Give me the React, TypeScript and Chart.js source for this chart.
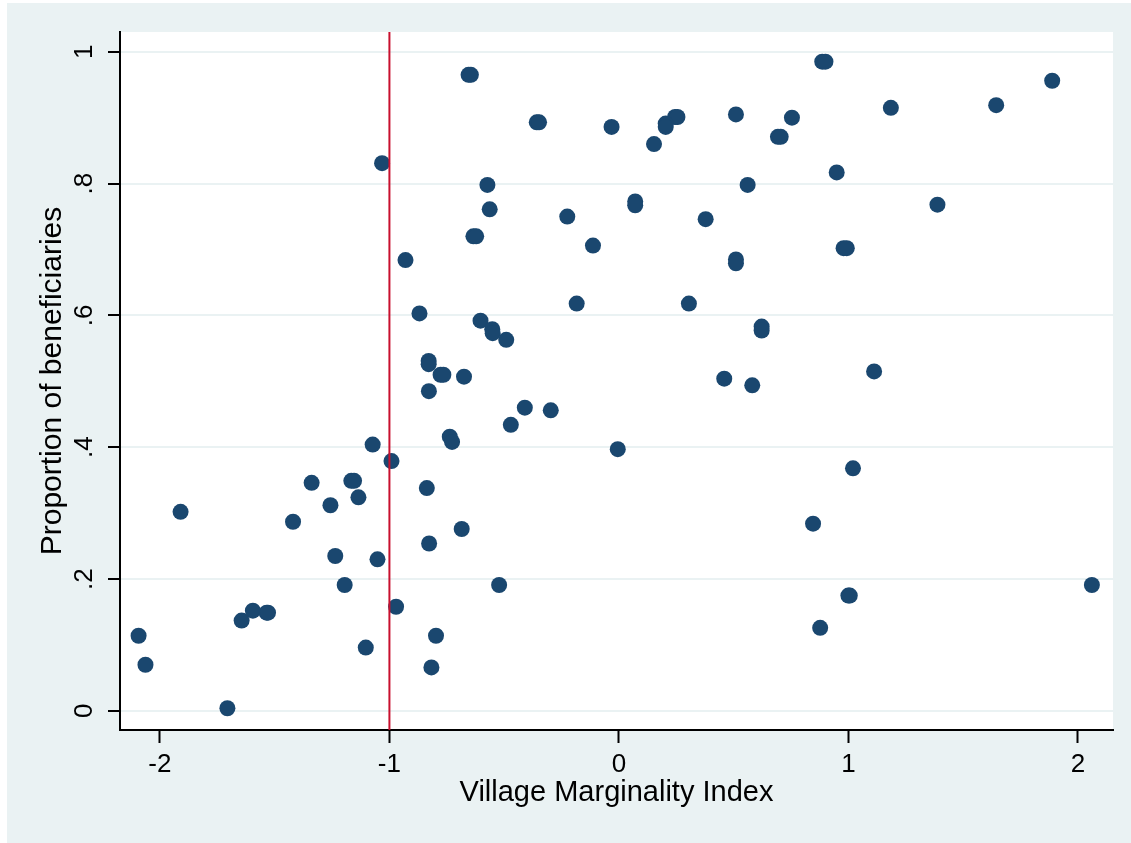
import React, { useEffect, useRef } from "react";
import { Chart, registerables } from "chart.js";

Chart.register(...registerables);

// Village Marginality Index (x) for each village
const marginalityIndex: number[] = [
  -0.655, -0.645, -0.358, -0.348, -0.032, -1.032, -0.573, -0.563, -0.225, -0.634,
  -0.622, -0.113, -0.93, -0.869, -0.184, -0.603, -0.552, -0.55, -0.491, -0.829,
  -0.829, -0.777, -0.765, -0.675, -0.828, -0.41, -0.297, -0.471, -0.737, -0.727,
  -0.005, -1.073, -0.991, -1.339, -1.166, -1.154, -1.135, -0.837, -1.257, -1.91,
  -1.42, -0.685, -0.827, -1.236, -1.052, -1.195, -0.522, -0.971, -1.595, -1.535,
  -1.529, -1.644, -2.093, -0.797, -1.103, -2.063, -0.817, -1.706, 0.886, 0.9,
  1.888, 0.245, 0.255, 0.204, 0.204, 0.51, 0.754, 0.693, 0.705, 1.185,
  1.644, 0.153, 0.949, 0.561, 0.071, 0.071, 1.388, 0.378, 0.979, 0.993,
  0.51, 0.51, 0.305, 0.622, 0.622, 0.459, 0.581, 1.112, 1.02, 0.846,
  2.061, 1.0, 1.006, 0.877,
];

// Proportion of beneficiaries (y) for each village
const beneficiaryShare: number[] = [
  0.965, 0.965, 0.893, 0.893, 0.886, 0.831, 0.798, 0.761, 0.75, 0.72,
  0.72, 0.706, 0.684, 0.603, 0.618, 0.592, 0.579, 0.573, 0.563, 0.531,
  0.526, 0.51, 0.51, 0.507, 0.485, 0.46, 0.456, 0.434, 0.416, 0.408,
  0.397, 0.404, 0.379, 0.346, 0.349, 0.349, 0.324, 0.338, 0.312, 0.302,
  0.287, 0.276, 0.254, 0.235, 0.23, 0.191, 0.191, 0.158, 0.152, 0.149,
  0.149, 0.137, 0.114, 0.114, 0.096, 0.07, 0.066, 0.004, 0.985, 0.985,
  0.956, 0.901, 0.901, 0.891, 0.886, 0.905, 0.9, 0.871, 0.871, 0.915,
  0.919, 0.86, 0.817, 0.798, 0.773, 0.767, 0.768, 0.746, 0.702, 0.702,
  0.685, 0.679, 0.618, 0.583, 0.577, 0.504, 0.494, 0.515, 0.368, 0.284,
  0.191, 0.175, 0.175, 0.126,
];

const xTicks: number[] = [-2, -1, 0, 1, 2];
const yTicks: number[] = [0, 0.2, 0.4, 0.6, 0.8, 1];
const xRange: number[] = [-2.174, 2.153];
const yRange: number[] = [-0.029, 1.03];
const cutoff = -1;
const xTitle = "Village Marginality Index";
const yTitle = "Proportion of beneficiaries";

const NAVY = "#1A476F";
const CRANBERRY = "#C8102E";
const BG = "#EAF2F3";
const FONT = "'Liberation Sans', Arial, Helvetica, sans-serif";

function formatY(v: number): string {
  if (v === 0) return "0";
  if (v === 1) return "1";
  return v.toFixed(1).replace(/^0/, "");
}

const backgroundPlugin = {
  id: "stataBackground",
  beforeDraw(chart: any) {
    const { ctx, width, height, chartArea } = chart;
    ctx.save();
    ctx.fillStyle = "#FFFFFF";
    ctx.fillRect(0, 0, width, height);
    ctx.fillStyle = BG;
    ctx.fillRect(7, 3, width - 7, height - 3);
    ctx.fillStyle = "#FFFFFF";
    ctx.fillRect(
      chartArea.left,
      chartArea.top,
      chartArea.right - chartArea.left,
      chartArea.bottom - chartArea.top
    );
    ctx.restore();
  },
};

export default function App() {
  const canvasRef = useRef<HTMLCanvasElement | null>(null);

  useEffect(() => {
    document.body.style.margin = "0";
    const canvas = canvasRef.current;
    if (!canvas) return;

    const points = marginalityIndex.map((x, i) => ({ x, y: beneficiaryShare[i] }));
    const cutoffLine = [
      { x: cutoff, y: yRange[0] },
      { x: cutoff, y: yRange[1] },
    ];

    const chart = new Chart(canvas, {
      type: "scatter",
      data: {
        datasets: [
          {
            label: "cutoff",
            data: cutoffLine,
            showLine: true,
            borderColor: CRANBERRY,
            borderWidth: 2,
            pointRadius: 0,
            pointHoverRadius: 0,
            fill: false,
          },
          {
            label: "villages",
            data: points,
            backgroundColor: NAVY,
            borderColor: NAVY,
            pointRadius: 8,
            pointBorderWidth: 0,
            borderWidth: 0,
            showLine: false,
          },
        ],
      },
      plugins: [backgroundPlugin],
      options: {
        responsive: false,
        animation: false,
        devicePixelRatio: 1,
        layout: { padding: { top: 32, right: 18, left: 0, bottom: 0 } },
        plugins: {
          legend: { display: false },
          tooltip: { enabled: false },
          title: { display: false },
        },
        scales: {
          x: {
            type: "linear",
            min: xRange[0],
            max: xRange[1],
            afterBuildTicks: (scale: any) => {
              scale.ticks = xTicks.map((v) => ({ value: v }));
            },
            afterFit: (scale: any) => {
              scale.height = 113;
            },
            grid: {
              drawOnChartArea: false,
              drawTicks: true,
              tickLength: 13,
              tickWidth: 2,
              tickColor: "#000000",
            },
            border: { display: true, color: "#000000", width: 2 },
            ticks: {
              color: "#000000",
              font: { family: FONT, size: 26 },
              padding: 6,
              maxRotation: 0,
              minRotation: 0,
              callback: (v: any) => String(v),
            },
            title: {
              display: true,
              text: xTitle,
              color: "#000000",
              font: { family: FONT, size: 29 },
              padding: { top: 0, bottom: 33 },
            },
          },
          y: {
            type: "linear",
            min: yRange[0],
            max: yRange[1],
            afterBuildTicks: (scale: any) => {
              scale.ticks = yTicks.map((v) => ({ value: v }));
            },
            afterFit: (scale: any) => {
              scale.width = 120;
            },
            grid: {
              drawOnChartArea: true,
              color: BG,
              lineWidth: 2,
              drawTicks: true,
              tickLength: 12,
              tickWidth: 2,
              tickColor: "#000000",
            },
            border: { display: true, color: "#000000", width: 2 },
            ticks: {
              color: "#000000",
              font: { family: FONT, size: 26 },
              padding: 12,
              minRotation: 90,
              maxRotation: 90,
              crossAlign: "center",
              callback: (v: any) => formatY(Number(v)),
            },
            title: {
              display: true,
              text: yTitle,
              color: "#000000",
              font: { family: FONT, size: 30 },
              padding: { top: 35, bottom: 0 },
            },
          },
        },
      },
    } as any);

    return () => {
      chart.destroy();
    };
  }, []);

  return (
    <div style={{ width: 1131, height: 843, position: "relative" }}>
      <canvas ref={canvasRef} width={1131} height={843} />
    </div>
  );
}
